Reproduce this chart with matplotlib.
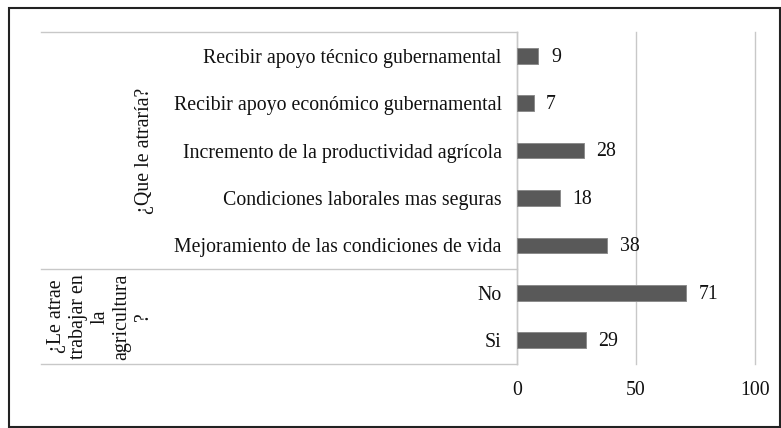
#!/usr/bin/env python3
"""Horizontal bar chart with two category groups (Excel-style multi-level axis)."""

import matplotlib
matplotlib.use("Agg")
import matplotlib.pyplot as plt
from matplotlib.lines import Line2D
from matplotlib.patches import Rectangle

# bottom to top
CATEGORIES = [
    "Si",
    "No",
    "Mejoramiento de las condiciones de vida",
    "Condiciones laborales mas seguras",
    "Incremento de la productividad agrícola",
    "Recibir apoyo económico gubernamental",
    "Recibir apoyo técnico gubernamental",
]
VALUES = [29, 71, 38, 18, 28, 7, 9]
GROUPS = ["¿Le atrae\ntrabajar en\nla\nagricultura\n?", "¿Que le atraría?"]
GROUP_SIZES = [2, 5]
X_TICKS = [0, 50, 100]

W, H = 781, 428
plt.rcParams["font.family"] = ["Liberation Serif", "DejaVu Serif"]
TEXT = "#111111"
GRID = "#c8c8c8"
FS = 14.3

fig = plt.figure(figsize=(W / 100, H / 100), dpi=100)
ax = fig.add_axes([517 / W, 1 - 364 / H, (755 - 517) / W, (364 - 32) / H])

ypos = list(range(len(CATEGORIES)))
ax.barh(ypos, VALUES, height=0.33, color="#595959", edgecolor="#8c8c8c", linewidth=0.7, zorder=3)
for y, v in zip(ypos, VALUES):
    ax.annotate(str(v), (v, y), xytext=(9, -1), textcoords="offset points",
                ha="left", va="center", fontsize=FS, color=TEXT)

ax.set_xlim(0, 100)
ax.set_ylim(-0.5, len(CATEGORIES) - 0.5)
ax.set_xticks(X_TICKS)
ax.set_xticklabels([str(t) for t in X_TICKS], fontsize=FS, color=TEXT)
ax.set_yticks(ypos)
ax.set_yticklabels(CATEGORIES, fontsize=FS, color=TEXT)
ax.tick_params(axis="both", length=0)
ax.tick_params(axis="y", pad=11)
ax.tick_params(axis="x", pad=12)
ax.grid(axis="x", color=GRID, linewidth=1.0, zorder=0)
for line in ax.get_xgridlines():
    line.set_clip_on(False)
for side in ["top", "right", "bottom"]:
    ax.spines[side].set_visible(False)
ax.spines["left"].set_color(GRID)
ax.spines["left"].set_linewidth(1.0)

# group separators and group labels (figure pixel coordinates)
y0, y1 = 364, 32
step = (y0 - y1) / len(CATEGORIES)
x_left = 41
edges = [y0]
for n in GROUP_SIZES:
    edges.append(edges[-1] - n * step)
for ey in edges:
    fig.add_artist(Line2D([x_left / W, 517 / W], [1 - ey / H, 1 - ey / H],
                          color=GRID, linewidth=1.0))
group_x = [100, 145]
spacing = [1.2, 1.0]
for i, name in enumerate(GROUPS):
    cy = (edges[i] + edges[i + 1]) / 2
    fig.text(group_x[i] / W, 1 - cy / H, name, rotation=90, ha="center", va="center",
             multialignment="center", fontsize=FS, color=TEXT, linespacing=spacing[i])

# outer frame
fig.add_artist(Rectangle((9 / W, 1 - 427 / H), (780 - 9) / W, (427 - 8) / H,
                         transform=fig.transFigure, fill=False, edgecolor="#222222", linewidth=1.5))

fig.savefig("out.png", dpi=100)
